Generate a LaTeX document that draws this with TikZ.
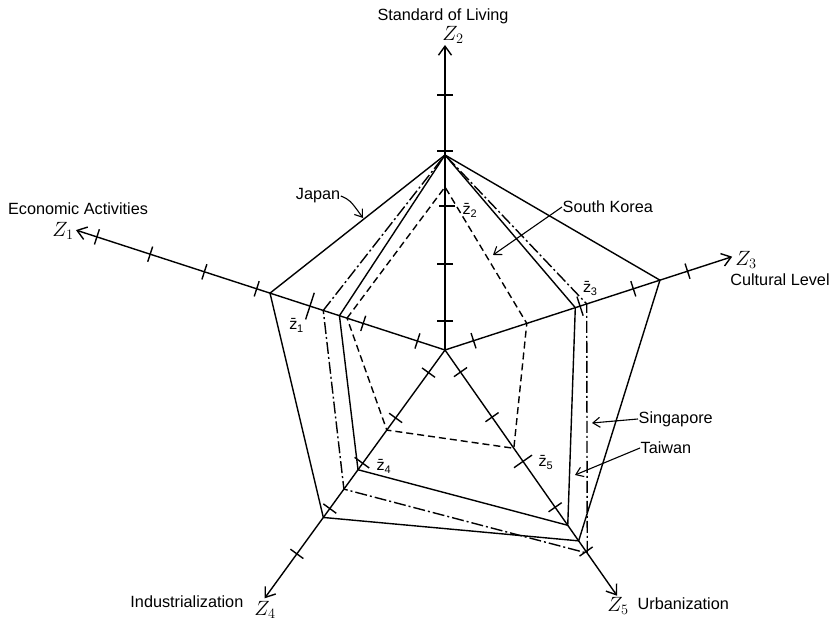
\documentclass[tikz,border=0pt]{standalone}
\usepackage{fontspec}
\setmainfont{Liberation Sans}
\newfontfamily\dvs{DejaVu Sans}
\usetikzlibrary{arrows.meta}
\newcommand{\zb}[1]{{\dvs z\char"0304}\raisebox{-3bp}{\fontsize{11}{12}\selectfont #1}}
\begin{document}
\begin{tikzpicture}[x=1bp,y=1bp, line width=1.4bp, line join=miter,
  axis/.style={-{Straight Barb[length=9bp,width=13bp]}},
  lbl/.style={font=\fontsize{16.3}{19}\selectfont, inner sep=0pt},
  zlab/.style={font=\fontsize{22}{26}\selectfont, inner sep=0pt},
  zbar/.style={font=\fontsize{15}{18}\selectfont, inner sep=0pt},
  ptr/.style={-{Straight Barb[length=7bp,width=10bp]}, line width=1.1bp},
  sk/.style={dash pattern=on 7bp off 4bp},
  sg/.style={dash pattern=on 12bp off 3bp on 2bp off 3bp},
]
\useasboundingbox (0,0) rectangle (837,624);
\coordinate (O) at (445,274);
% axis tips
\path (O) ++(162:388) coordinate (a1);
\path (O) ++(90:305) coordinate (a2);
\path (O) ++(18:302) coordinate (a3);
\path (O) ++(234:307) coordinate (a4);
\path (O) ++(305:300) coordinate (a5);
\foreach \i in {1,...,5} {\draw[axis] (O) -- (a\i);}
% ticks
\foreach \a/\l in {162/{29,86,198,253,310,366}, 90/{29,86,199,255}, 18/{30,198,255}, 234/{28,84,196,252}, 305/{27,82,192,246}} {
  \foreach \d in \l {\draw[shift={(O)}, rotate=\a] (\d,-8) -- (\d,8);}
}
% mean ticks
\draw[shift={(O)}, rotate=162] (142,-14) -- (142,14);
\draw[shift={(O)}, rotate=90] (144,-10) -- (144,6);
\draw[shift={(O)}, rotate=18] (142,-10) -- (142,10);
\draw[shift={(O)}, rotate=234] (140,-10) -- (140,8);
\draw[shift={(O)}, rotate=305] (136,-11) -- (136,11);
% Japan
\path (O) ++(162:184) coordinate (j1) (O) ++(90:195) coordinate (j2) (O) ++(18:226) coordinate (j3) (O) ++(234:207) coordinate (j4) (O) ++(305:233) coordinate (j5);
\draw (j1) -- (j2) -- (j3) -- (j5) -- (j4) -- cycle;
% Taiwan
\path (O) ++(162:111) coordinate (t1) (O) ++(90:195) coordinate (t2) (O) ++(18:137) coordinate (t3) (O) ++(234:148) coordinate (t4) (O) ++(305:214) coordinate (t5);
\draw (t1) -- (t2) -- (t3) -- (t5) -- (t4) -- cycle;
% Singapore
\path (O) ++(162:128) coordinate (s1) (O) ++(90:195) coordinate (s2) (O) ++(18:149) coordinate (s3) (O) ++(234:172) coordinate (s4) (O) ++(305:248) coordinate (s5);
\draw[sg] (s1) -- (s2) -- (s3) -- (s5) -- (s4) -- cycle;
% South Korea
\path (O) ++(162:103) coordinate (k1) (O) ++(90:163) coordinate (k2) (O) ++(18:86) coordinate (k3) (O) ++(234:99) coordinate (k4) (O) ++(305:120) coordinate (k5);
\draw[sk] (k1) -- (k2) -- (k3) -- (k5) -- (k4) -- cycle;
% axis labels
\node[lbl] (n2) at (443,608) {Standard of Living};
\node[zlab] (z2) at (453,589) {$Z_2$};
\node[lbl] (n1) at (78,415) {Economic Activities};
\node[zlab] (z1) at (63,393) {$Z_1$};
\node[zlab] (z3) at (746,364) {$Z_3$};
\node[lbl] (n3) at (780,344) {Cultural Level};
\node[zlab] (z4) at (265,14) {$Z_4$};
\node[lbl, anchor=east] (n4) at (244,22) {Industrialization};
\node[zlab] (z5) at (618,18) {$Z_5$};
\node[lbl, anchor=west] (n5) at (637,20) {Urbanization};
% mean labels
\node[zbar, anchor=north east] (m1) at (304,306) {\zb{1}};
\node[zbar, anchor=west] (m2) at (462,414) {\zb{2}};
\node[zbar, anchor=south] (m3) at (590,328) {\zb{3}};
\node[zbar, anchor=west] (m4) at (376,158) {\zb{4}};
\node[zbar, anchor=west] (m5) at (538,162) {\zb{5}};
% country labels
\node[lbl] (jp) at (318,428) {Japan};
\coordinate (jpt) at (363,406);
\draw[ptr] (jp.east) .. controls (350,424) .. (jpt);
\node[lbl, anchor=west] (skl) at (562,417) {South Korea};
\coordinate (skt) at (493,369);
\draw[ptr] (skl.west) -- (skt);
\node[lbl, anchor=west] (sgl) at (638,205) {Singapore};
\coordinate (sgt) at (592,201);
\draw[ptr] (sgl.west) -- (sgt);
\node[lbl, anchor=west] (twl) at (640,176) {Taiwan};
\coordinate (twt) at (575,149);
\draw[ptr] (twl.west) -- (twt);
\end{tikzpicture}
\end{document}
